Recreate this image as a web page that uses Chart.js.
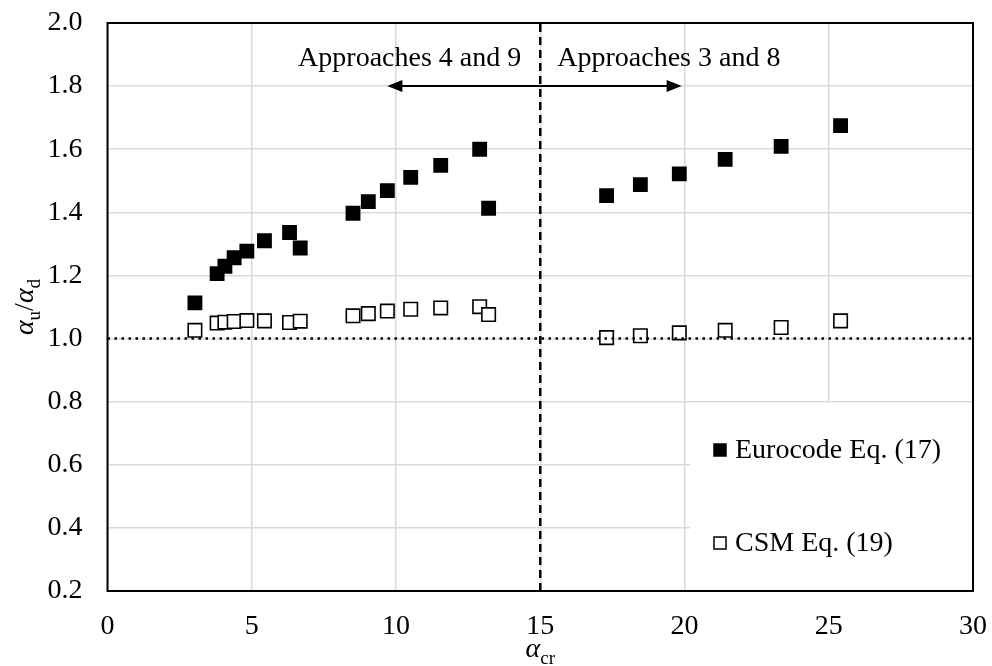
<!DOCTYPE html>
<html>
<head>
<meta charset="utf-8">
<script src="https://cdn.jsdelivr.net/npm/chart.js@4.4.1/dist/chart.umd.min.js"></script>
<style>
  html, body { margin: 0; padding: 0; background: #fff; }
  #wrap { width: 992px; height: 666px; }
</style>
</head>
<body>
<div id="wrap"><canvas id="chart"></canvas></div>
<script>
// alpha_cr values (x) shared by both series
const alphaCr = [3.03, 3.80, 4.07, 4.39, 4.83, 5.44, 6.31, 6.68, 8.51, 9.04, 9.70, 10.51, 11.55, 12.90, 13.21,
                 17.30, 18.47, 19.82, 21.41, 23.35, 25.41];
// alpha_u / alpha_d
const eurocode = [1.113, 1.206, 1.229, 1.256, 1.277, 1.310, 1.336, 1.287, 1.397, 1.434, 1.469, 1.511, 1.549, 1.600, 1.413,
                  1.453, 1.488, 1.522, 1.568, 1.609, 1.675];
const csm = [1.026, 1.049, 1.052, 1.054, 1.057, 1.056, 1.051, 1.055, 1.072, 1.079, 1.087, 1.093, 1.097, 1.101, 1.076,
             1.003, 1.009, 1.018, 1.026, 1.035, 1.056];
const seriesNames = ["Eurocode Eq. (17)", "CSM Eq. (19)"];

const xTicks = [0, 5, 10, 15, 20, 25, 30];
const yTicks = [0.2, 0.4, 0.6, 0.8, 1.0, 1.2, 1.4, 1.6, 1.8, 2.0];

const splitX = 15;      // boundary between approaches
const refY = 1.0;       // unity line
const arrowY = 1.8;
const arrowLeftTo = 9.7;
const arrowRightTo = 19.9;

const FONT = "'Liberation Serif', 'Times New Roman', serif";

const pts = (ys) => alphaCr.map((x, i) => ({ x: x, y: ys[i] }));

// italic alpha with subscript, drawn at (x, y) baseline, returns width
function drawAlpha(ctx, x, y, sub, size) {
  ctx.font = "italic " + size + "px " + FONT;
  ctx.fillText("\u03b1", x, y);
  let w = ctx.measureText("\u03b1").width;
  ctx.font = Math.round(size * 0.68) + "px " + FONT;
  ctx.fillText(sub, x + w, y + size * 0.25);
  return w + ctx.measureText(sub).width;
}

const extras = {
  id: "extras",
  beforeDatasetsDraw(chart) {
    const { ctx, chartArea: a, scales: { y } } = chart;
    // legend box covering the grid
    const top = y.getPixelForValue(0.8) + 1;
    ctx.save();
    ctx.fillStyle = "#fff";
    ctx.fillRect(690, top, a.right - 690, a.bottom - top);
    ctx.restore();
  },
  afterDraw(chart) {
    const { ctx, chartArea: a, scales: { x, y } } = chart;
    ctx.save();
    // plot frame
    ctx.strokeStyle = "#000";
    ctx.lineWidth = 2;
    ctx.strokeRect(a.left, a.top, a.right - a.left, a.bottom - a.top);

    // arrows
    const x15 = x.getPixelForValue(splitX);
    const ay = y.getPixelForValue(arrowY);
    const arrow = (toX) => {
      const tx = x.getPixelForValue(toX);
      const dir = Math.sign(tx - x15);
      ctx.beginPath();
      ctx.moveTo(x15, ay);
      ctx.lineTo(tx - dir * 12, ay);
      ctx.lineWidth = 2;
      ctx.stroke();
      ctx.beginPath();
      ctx.moveTo(tx, ay);
      ctx.lineTo(tx - dir * 15, ay - 6);
      ctx.lineTo(tx - dir * 15, ay + 6);
      ctx.closePath();
      ctx.fillStyle = "#000";
      ctx.fill();
    };
    arrow(arrowLeftTo);
    arrow(arrowRightTo);

    ctx.fillStyle = "#000";
    ctx.font = "28px " + FONT;
    ctx.textBaseline = "middle";
    const ty = y.getPixelForValue(1.888);
    ctx.textAlign = "right";
    ctx.fillText("Approaches 4 and 9", x15 - 19, ty);
    ctx.textAlign = "left";
    ctx.fillText("Approaches 3 and 8", x15 + 17, ty);

    // legend
    const lx = 714;
    const items = [
      { name: seriesNames[0], fill: "#000", yy: 450 },
      { name: seriesNames[1], fill: "#fff", yy: 543 }
    ];
    items.forEach((it) => {
      ctx.fillStyle = it.fill;
      ctx.fillRect(lx, it.yy - 6, 12, 12);
      ctx.strokeStyle = "#000";
      ctx.lineWidth = 1.5;
      ctx.strokeRect(lx, it.yy - 6, 12, 12);
      ctx.fillStyle = "#000";
      ctx.font = "28px " + FONT;
      ctx.textAlign = "left";
      ctx.textBaseline = "middle";
      ctx.fillText(it.name, lx + 21, it.yy + 1);
    });

    // axis titles
    ctx.textBaseline = "alphabetic";
    ctx.textAlign = "left";
    ctx.font = "italic 28px " + FONT;
    const aw = ctx.measureText("\u03b1").width;
    ctx.font = "19px " + FONT;
    const cw = ctx.measureText("cr").width;
    drawAlpha(ctx, (a.left + a.right) / 2 - (aw + cw) / 2, 657, "cr", 28);

    ctx.translate(33, (a.top + a.bottom) / 2);
    ctx.rotate(-Math.PI / 2);
    ctx.font = "italic 28px " + FONT;
    const wA = ctx.measureText("\u03b1").width;
    ctx.font = "19px " + FONT;
    const wu = ctx.measureText("u").width, wd = ctx.measureText("d").width;
    ctx.font = "28px " + FONT;
    const ws = ctx.measureText("/").width;
    let cx = -(2 * wA + wu + wd + ws) / 2;
    cx += drawAlpha(ctx, cx, 0, "u", 28);
    ctx.font = "28px " + FONT;
    ctx.fillText("/", cx, 0);
    cx += ws;
    drawAlpha(ctx, cx, 0, "d", 28);
    ctx.restore();
  }
};

new Chart(document.getElementById("chart"), {
  type: "scatter",
  data: {
    datasets: [
      {
        label: "ref",
        data: [{ x: 0, y: refY }, { x: 30, y: refY }],
        showLine: true,
        borderColor: "#000",
        borderWidth: 2.5,
        borderDash: [2.5, 4.5],
        pointRadius: 0
      },
      {
        label: "split",
        data: [{ x: splitX, y: 0.2 }, { x: splitX, y: 2.0 }],
        showLine: true,
        borderColor: "#000",
        borderWidth: 2.5,
        borderDash: [8, 5],
        pointRadius: 0
      },
      {
        label: seriesNames[1],
        data: pts(csm),
        pointStyle: "rect",
        pointRadius: 9.5,
        backgroundColor: "#fff",
        borderColor: "#000",
        borderWidth: 1.6
      },
      {
        label: seriesNames[0],
        data: pts(eurocode),
        pointStyle: "rect",
        pointRadius: 10.5,
        backgroundColor: "#000",
        borderColor: "#000",
        borderWidth: 0
      }
    ]
  },
  options: {
    responsive: true,
    maintainAspectRatio: false,
    animation: false,
    layout: { padding: { top: 23, right: 19, left: 0, bottom: 0 } },
    plugins: {
      legend: { display: false },
      tooltip: { enabled: false }
    },
    scales: {
      x: {
        type: "linear",
        min: 0,
        max: 30,
        afterBuildTicks: (s) => { s.ticks = xTicks.map((v) => ({ value: v })); },
        afterFit: (s) => { s.height = 75; s.paddingLeft = 0; s.paddingRight = 0; },
        grid: { color: "#d9d9d9", lineWidth: 1.5, drawTicks: false },
        border: { display: false },
        ticks: { color: "#000", padding: 19, font: { family: FONT, size: 28 }, maxRotation: 0 }
      },
      y: {
        type: "linear",
        min: 0.2,
        max: 2.0,
        afterBuildTicks: (s) => { s.ticks = yTicks.map((v) => ({ value: v })); },
        afterFit: (s) => { s.width = 107.5; s.paddingTop = 0; s.paddingBottom = 0; },
        grid: { color: "#d9d9d9", lineWidth: 1.5, drawTicks: false },
        border: { display: false },
        ticks: {
          color: "#000",
          padding: 25,
          font: { family: FONT, size: 28 },
          callback: (v) => Number(v).toFixed(1)
        }
      }
    }
  },
  plugins: [extras]
});
</script>
</body>
</html>
